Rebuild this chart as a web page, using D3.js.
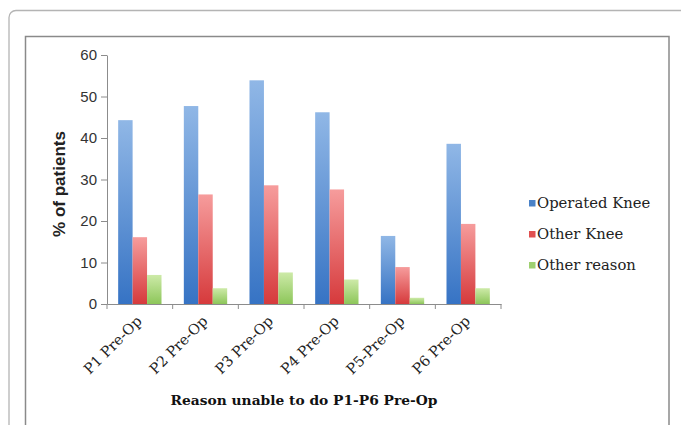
<!DOCTYPE html>
<html>
<head>
<meta charset="utf-8">
<script src="https://cdn.jsdelivr.net/npm/d3@7"></script>
<style>
  html, body { margin: 0; padding: 0; background: #fff; }
  svg { display: block; }
</style>
</head>
<body>
<svg id="chart" width="681" height="425"></svg>
<script>
const categories = ["P1 Pre-Op", "P2 Pre-Op", "P3 Pre-Op", "P4 Pre-Op", "P5-Pre-Op", "P6 Pre-Op"];
const seriesNames = ["Operated Knee", "Other Knee", "Other reason"];
const operatedKnee = [44.3, 47.7, 53.9, 46.2, 16.4, 38.6];
const otherKnee = [16.1, 26.4, 28.6, 27.6, 8.9, 19.3];
const otherReason = [7.0, 3.8, 7.6, 5.9, 1.5, 3.8];
const yTicks = [0, 10, 20, 30, 40, 50, 60];
const yTitle = "% of patients";
const xTitle = "Reason unable to do P1-P6 Pre-Op";

const seriesValues = [operatedKnee, otherKnee, otherReason];
const colors = [
  { top: "#90b7e6", bottom: "#3673c4", key: "#4a82c8" },
  { top: "#f69c9c", bottom: "#d63a3c", key: "#e05050" },
  { top: "#cdeaa8", bottom: "#8dc65a", key: "#9fd070" }
];

const svg = d3.select("#chart");

// outer frame and inner chart frame
svg.append("rect").attr("x", 9).attr("y", 10.5).attr("width", 690).attr("height", 440)
  .attr("rx", 7).attr("fill", "none").attr("stroke", "#b4b4b4").attr("stroke-width", 1.3);
svg.append("rect").attr("x", 25.5).attr("y", 36.5).attr("width", 643.5).attr("height", 420)
  .attr("fill", "#fff").attr("stroke", "#8a8a8a").attr("stroke-width", 1.5);

// gradients
const defs = svg.append("defs");
colors.forEach((c, i) => {
  const g = defs.append("linearGradient").attr("id", "grad" + i)
    .attr("x1", 0).attr("y1", 0).attr("x2", 0).attr("y2", 1);
  g.append("stop").attr("offset", "0%").attr("stop-color", c.top);
  g.append("stop").attr("offset", "100%").attr("stop-color", c.bottom);
});

const x = d3.scaleBand().domain(categories).range([107, 501]).paddingInner(0.34).paddingOuter(0.17);
const xs = d3.scaleBand().domain(seriesNames).range([0, x.bandwidth()]);
const y = d3.scaleLinear().domain([0, 60]).range([304, 55]);

// bars
seriesValues.forEach((vals, si) => {
  svg.append("g").selectAll("rect").data(vals).join("rect")
    .attr("x", (d, i) => x(categories[i]) + xs(seriesNames[si]))
    .attr("y", d => y(d))
    .attr("width", xs.bandwidth())
    .attr("height", d => y(0) - y(d))
    .attr("fill", "url(#grad" + si + ")");
});

// y axis
const yAxis = svg.append("g").attr("transform", "translate(107,0)")
  .call(d3.axisLeft(y).tickValues(yTicks).tickSize(6).tickSizeOuter(0).tickPadding(4));
yAxis.select(".domain").attr("stroke", "#8c8c8c");
yAxis.selectAll(".tick line").attr("stroke", "#8c8c8c");
yAxis.selectAll(".tick text").attr("font-family", "Liberation Sans, Arial, sans-serif")
  .attr("font-size", 15).attr("fill", "#333");

// x axis line
const xAxis = svg.append("g").attr("transform", "translate(0,304)")
  .call(d3.axisBottom(x).tickSize(0).tickFormat(""));
xAxis.select(".domain").attr("stroke", "#8c8c8c");
// category boundary ticks
const boundaries = categories.map(c => x(c) - x.step() * x.paddingInner() / 2)
  .concat([x(categories[categories.length - 1]) + x.bandwidth() + x.step() * x.paddingInner() / 2]);
svg.append("g").selectAll("line").data(boundaries).join("line")
  .attr("x1", d => d).attr("x2", d => d).attr("y1", 304).attr("y2", 309)
  .attr("stroke", "#8c8c8c");

// x tick labels
svg.append("g").selectAll("text").data(categories).join("text")
  .attr("transform", d => `translate(${x(d) + x.bandwidth() / 2 + 3},${322}) rotate(-45)`)
  .attr("text-anchor", "end")
  .attr("font-family", "DejaVu Serif, serif").attr("font-size", 14.5).attr("fill", "#222")
  .text(d => d);

// axis titles
svg.append("text").attr("transform", "translate(65,184) rotate(-90)")
  .attr("text-anchor", "middle").attr("font-family", "Liberation Sans, Arial, sans-serif")
  .attr("font-weight", "bold").attr("font-size", 17).attr("fill", "#222").text(yTitle);
svg.append("text").attr("x", 304).attr("y", 405)
  .attr("text-anchor", "middle").attr("font-family", "DejaVu Serif, serif")
  .attr("font-weight", "bold").attr("font-size", 13.8).attr("fill", "#111").text(xTitle);

// legend
const legend = svg.append("g").attr("transform", "translate(529,203)");
seriesNames.forEach((n, i) => {
  const g = legend.append("g").attr("transform", `translate(0,${i * 31})`);
  g.append("rect").attr("x", 0).attr("y", -3).attr("width", 6.5).attr("height", 6.5)
    .attr("fill", colors[i].key);
  g.append("text").attr("x", 8).attr("y", 5).attr("font-family", "DejaVu Serif, serif")
    .attr("font-size", 14.8).attr("fill", "#222").text(n);
});
</script>
</body>
</html>
